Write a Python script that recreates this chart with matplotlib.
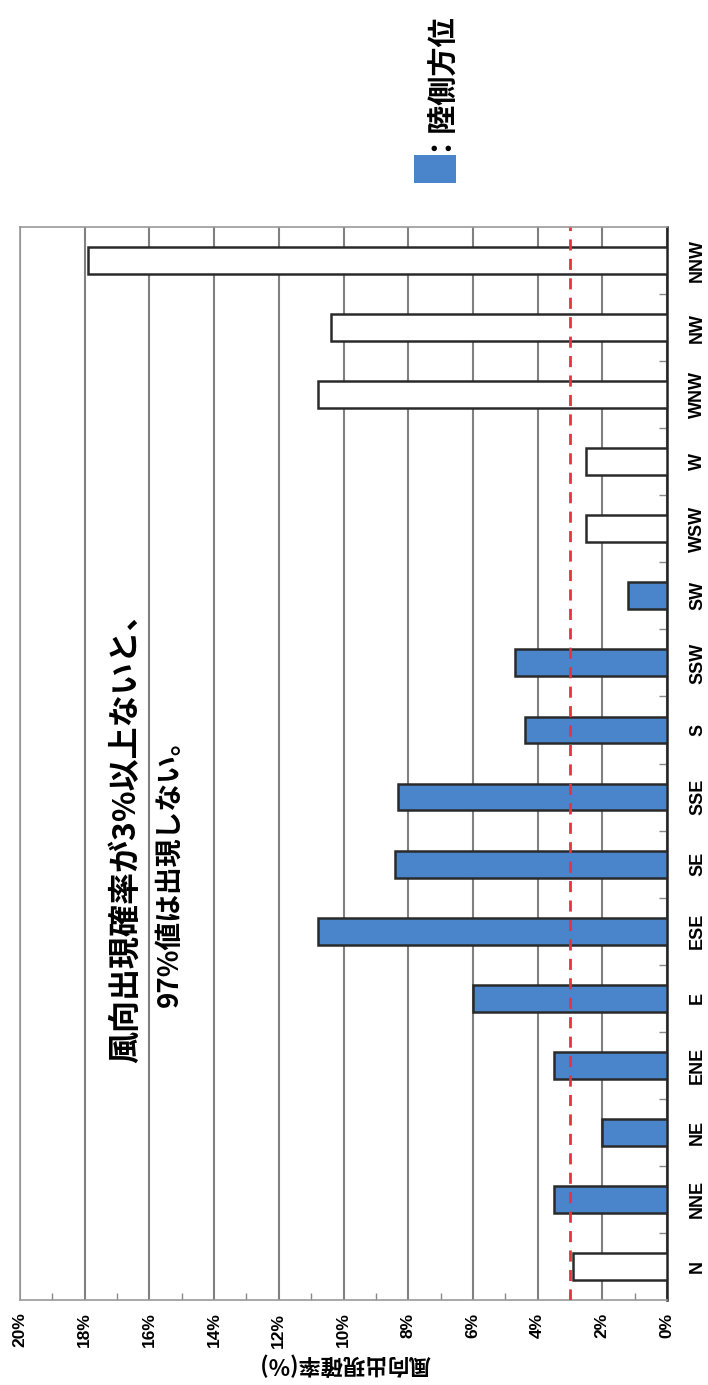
import matplotlib
matplotlib.use("Agg")
import matplotlib.pyplot as plt
from matplotlib.patches import Rectangle
import numpy as np

# ---------- data ----------
directions = ["N", "NNE", "NE", "ENE", "E", "ESE", "SE", "SSE",
              "S", "SSW", "SW", "WSW", "W", "WNW", "NW", "NNW"]
freq = [2.9, 3.5, 2.0, 3.5, 6.0, 10.8, 8.4, 8.3,
        4.4, 4.7, 1.2, 2.5, 2.5, 10.8, 10.4, 17.9]          # 風向出現確率 (%)
land_side = [False, True, True, True, True, True, True, True,
             True, True, True, False, False, False, False, False]
threshold = 3.0
pct_ticks = list(range(0, 21, 2))

BLUE = "#4a85cc"
plt.rcParams["font.family"] = ["Noto Sans CJK JP", "DejaVu Sans"]
LAT = ["Liberation Sans", "DejaVu Sans"]

W, H = 708, 1385
fig = plt.figure(figsize=(W / 100, H / 100), dpi=100)


def fx(px):
    return px / W


def fy(py):
    return 1 - py / H


# the chart is drawn turned on its side: categories run upward, values leftward
ax = fig.add_axes([fx(20), fy(1300), fx(667) - fx(20), fy(227) - fy(1300)])
pos = np.arange(len(directions))
colors = [BLUE if l else "white" for l in land_side]
ax.barh(pos, freq, height=0.4, color=colors, edgecolor="#2a2a2a",
        linewidth=1.8, zorder=3)
ax.axvline(threshold, color="#e8323c", ls=(0, (4, 3)), lw=2, zorder=4)

ax.set_ylim(-0.5, len(directions) - 0.5)
ax.set_xlim(20, 0)

ax.set_xticks(pct_ticks)
ax.set_xticklabels([f"{t}%" for t in pct_ticks], rotation=90,
                   fontsize=12.5, fontweight="bold", family=LAT)
ax.set_xticks(np.arange(1, 20, 2), minor=True)
ax.tick_params(axis="x", which="major", length=0, pad=9)
ax.tick_params(axis="x", which="minor", direction="in", length=5,
               color="#888888", width=1)
ax.grid(axis="x", which="major", color="#808080", lw=1.5, zorder=1)

ax.yaxis.tick_right()
ax.set_yticks(pos)
ax.set_yticklabels(directions, rotation=90, va="center",
                   fontsize=13, fontweight="bold", family=LAT)
ax.set_yticks(pos[:-1] + 0.5, minor=True)
ax.tick_params(axis="y", which="major", length=0, pad=16)
ax.tick_params(axis="y", which="minor", direction="in", length=6,
               color="#888888", width=1)

for side, sp in ax.spines.items():
    sp.set_color("#999999")
    sp.set_linewidth(1.2)
ax.spines["right"].set_color("#222222")
ax.spines["right"].set_linewidth(1.8)

# axis title (upside down, as in the source)
fig.text(fx(345), fy(1364), "風向出現確率(%)", rotation=180,
         ha="center", va="center", fontsize=16, fontweight="bold")

# note
fig.text(fx(126), fy(830), "風向出現確率が3%以上ないと、", rotation=90,
         ha="center", va="center", fontsize=23, fontweight="bold")
fig.text(fx(170), fy(866), "97%値は出現しない。", rotation=90,
         ha="center", va="center", fontsize=20, fontweight="bold")

# legend
fig.add_artist(Rectangle((fx(414), fy(183)), fx(456) - fx(414),
                         fy(155) - fy(183), transform=fig.transFigure,
                         facecolor=BLUE, edgecolor="none"))
fig.text(fx(432), fy(78), "：陸側方位", rotation=90,
         ha="center", va="center", fontsize=21, fontweight="bold")

fig.savefig("out.png", dpi=100)
